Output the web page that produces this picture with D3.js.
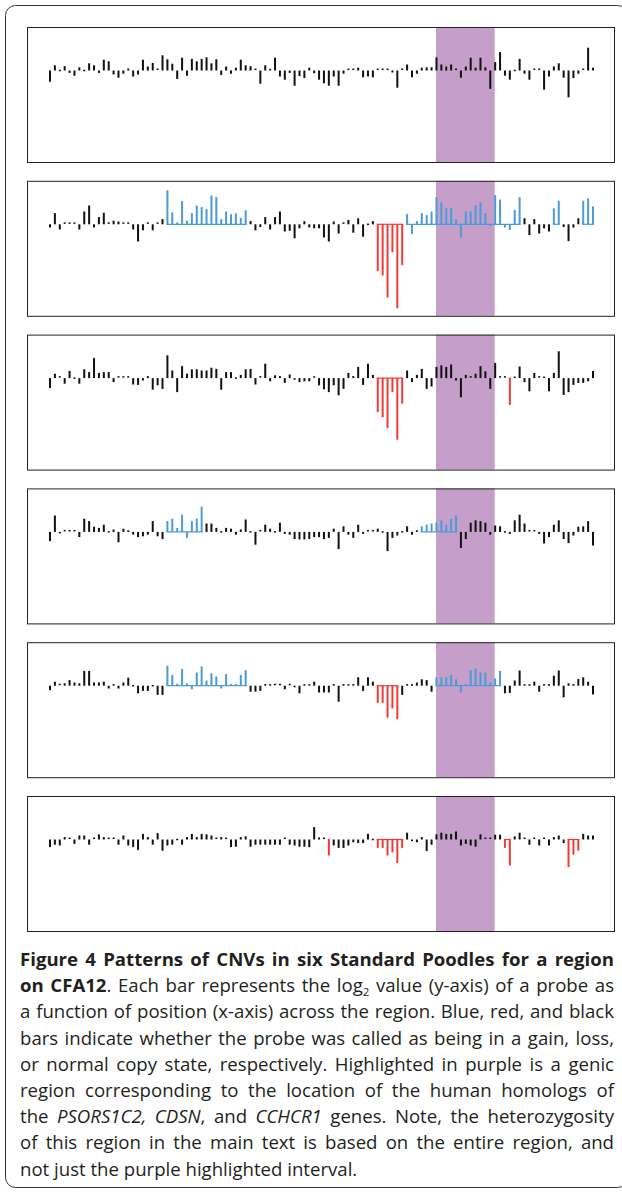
<!DOCTYPE html>
<html><head><meta charset="utf-8">
<script src="https://cdn.jsdelivr.net/npm/d3@7"></script>
<style>body{margin:0;background:#fff}svg{display:block}</style>
</head><body>
<svg id="chart" width="622" height="1193"></svg>
<script>
// ---------- DATA ----------
// probe index along the CFA12 region (x-axis)
const probeIndex = d3.range(112);
// highlighted genic interval (in probe-index units)
const highlightStart = 78.9;
const highlightEnd = 90.9;

// log2 ratios for each poodle (one value per probe)
const poodle1 = [-0.28,0.13,-0.02,0.11,-0.06,-0.13,0.08,-0.03,0.18,0.13,-0.06,0.27,0.23,-0.10,-0.18,-0.08,0.05,-0.15,-0.10,0.27,0.10,0.19,0.03,0.38,0.28,0.17,-0.21,0.32,-0.13,0.29,0.23,0.29,0.33,0.18,0.28,-0.11,0.10,-0.08,0.07,0.27,0.13,0.11,0.03,-0.33,0.13,0.04,0.32,-0.15,-0.23,-0.06,-0.38,-0.14,-0.19,0.07,-0.07,-0.23,-0.32,-0.38,-0.15,-0.38,-0.08,0.03,0.03,0.07,-0.17,-0.15,-0.17,0.03,0.03,0.03,-0.05,-0.43,0.03,0.15,-0.17,-0.08,0.07,0.08,0.08,0.33,0.15,0.10,0.15,0.03,-0.18,0.10,0.32,0.07,0.32,0.08,-0.46,0.21,0.46,-0.13,-0.23,-0.03,0.29,-0.08,-0.23,0.03,0.03,-0.48,-0.15,0.10,0.18,-0.18,-0.67,-0.19,-0.08,0.03,0.57,0.07];
const poodle2 = [-0.08,0.28,-0.13,0.03,0.03,0.03,-0.13,0.32,0.47,-0.08,0.18,0.29,0.03,0.09,0.07,0.03,0.03,-0.13,-0.43,-0.15,0.03,-0.15,0.03,0.13,0.85,0.30,0.05,0.58,0.09,0.28,0.47,0.43,0.38,0.72,0.68,0.13,0.32,0.25,0.27,0.16,0.35,0.08,-0.15,-0.07,0.18,-0.13,0.18,0.32,-0.18,-0.16,-0.35,-0.10,0.08,-0.08,-0.10,-0.10,-0.33,-0.43,0.07,-0.23,0.03,0.11,-0.21,0.15,-0.31,-0.03,0.08,-1.17,-1.28,-1.83,-0.70,-2.10,-1.02,0.26,-0.24,0.08,0.28,0.23,0.32,0.68,0.55,0.40,0.40,0.12,-0.33,0.32,0.32,0.48,0.55,0.28,-0.04,0.73,0.62,-0.08,-0.14,0.36,0.68,0.15,-0.27,0.13,-0.23,-0.10,-0.18,0.40,0.59,-0.07,-0.42,-0.08,0.15,0.59,0.65,0.45];
const poodle3 = [-0.25,0.11,0.03,-0.14,0.18,-0.03,-0.14,0.22,0.15,0.50,0.13,0.15,0.15,-0.10,0.03,0.03,0.03,-0.16,-0.17,-0.06,0.05,-0.29,-0.18,-0.27,0.57,0.19,-0.35,0.30,0.11,0.22,0.22,0.19,0.19,0.26,0.23,-0.29,0.15,0.15,-0.03,0.08,0.22,0.23,-0.16,0.03,0.36,-0.08,0.07,0.05,-0.12,0.09,-0.04,-0.10,-0.08,-0.08,0.03,-0.18,-0.28,-0.35,-0.18,-0.43,-0.27,0.13,0.05,0.28,-0.17,0.36,0.08,-0.85,-0.98,-1.25,-0.35,-1.54,-0.64,0.19,-0.10,0.08,0.23,-0.27,-0.21,0.28,0.32,0.28,0.34,-0.06,-0.48,0.08,0.03,0.11,0.30,0.17,-0.27,0.38,0.03,0.03,-0.67,0.02,0.29,-0.10,-0.33,0.13,0.03,0.02,-0.33,0.13,0.67,-0.42,-0.35,-0.17,-0.12,-0.12,-0.08,0.18];
const poodle4 = [-0.23,0.41,-0.04,0.03,0.03,0.03,-0.13,0.33,0.27,0.13,0.10,0.18,-0.03,0.06,-0.26,0.08,0.04,-0.07,-0.13,-0.11,-0.07,0.27,-0.11,-0.18,0.27,0.33,0.10,0.43,-0.15,0.27,0.33,0.63,0.21,0.21,0.10,-0.03,0.10,0.08,-0.07,0.06,0.31,-0.03,-0.32,0.03,0.18,0.08,-0.03,0.23,-0.05,-0.07,-0.18,-0.19,-0.19,-0.18,-0.13,-0.13,-0.18,-0.15,0.08,-0.43,0.14,-0.07,-0.15,0.18,-0.05,0.03,0.03,0.08,-0.03,-0.48,-0.15,-0.09,-0.03,0.14,-0.07,0.04,0.14,0.18,0.21,0.23,0.29,0.18,0.33,0.41,-0.40,-0.18,0.23,0.29,0.27,0.23,-0.07,0.16,0.14,-0.03,-0.05,0.29,0.43,0.21,0.03,0.03,-0.05,-0.29,-0.13,0.18,0.29,-0.18,-0.28,-0.09,0.13,0.14,0.27,-0.34];
const poodle5 = [-0.11,0.10,0.03,0.06,0.14,0.08,0.06,0.37,0.37,0.08,0.08,0.10,-0.07,0.04,-0.07,0.08,0.20,-0.03,-0.19,-0.13,-0.13,-0.03,-0.23,-0.23,0.50,0.27,0.03,0.42,0.06,-0.09,0.33,0.48,0.13,0.31,0.23,-0.07,0.29,0.04,0.04,0.27,0.39,-0.15,-0.15,-0.13,0.04,0.02,0.03,0.03,-0.09,0.03,-0.04,-0.19,0.04,0.02,0.10,-0.17,-0.17,-0.17,0.04,-0.40,0.04,0.02,0.02,0.21,-0.13,0.21,0.10,-0.43,-0.43,-0.80,-0.57,-0.84,-0.23,0.02,0.04,0.08,0.16,0.14,-0.15,0.21,0.21,0.21,0.27,0.16,-0.17,0.04,0.39,0.43,0.33,0.33,0.08,0.18,0.37,-0.19,-0.18,0.13,0.38,0.02,0.02,0.10,-0.15,0.02,0.04,0.25,0.38,-0.29,0.06,0.04,0.17,0.21,0.10,-0.22];
const poodle6 = [-0.19,-0.13,-0.15,0.06,0.03,-0.11,0.10,0.10,-0.13,0.03,0.13,0.06,0.03,0.03,-0.13,0.10,-0.15,-0.19,-0.26,0.14,0.06,-0.13,0.16,-0.28,-0.15,-0.13,-0.03,-0.13,0.06,0.14,0.06,0.14,0.13,0.10,0.03,0.06,0.03,-0.19,-0.18,0.06,0.08,-0.18,-0.13,-0.13,-0.13,-0.13,-0.13,-0.13,0.03,-0.13,-0.15,-0.18,-0.18,-0.19,0.31,0.05,0.03,-0.40,-0.15,-0.21,-0.21,-0.15,-0.07,-0.09,-0.09,0.14,-0.03,-0.21,-0.21,-0.40,-0.32,-0.59,-0.21,0.17,-0.04,-0.07,0.06,-0.29,-0.13,0.13,0.17,0.14,0.14,0.20,-0.15,-0.11,-0.15,-0.18,0.13,0.03,0.03,0.12,0.12,-0.21,-0.65,0.08,0.17,0.03,-0.13,0.03,-0.15,0.03,-0.15,0.06,0.10,-0.09,-0.69,-0.38,-0.28,0.14,0.10,0.10];

// called segments: [first probe, last probe, state]
const calls1 = [];
const calls2 = [[24,40,"gain"],[67,72,"loss"],[73,96,"gain"],[103,104,"gain"],[109,111,"gain"]];
const calls3 = [[67,72,"loss"],[94,94,"loss"]];
const calls4 = [[24,31,"gain"],[76,83,"gain"]];
const calls5 = [[24,40,"gain"],[67,71,"loss"],[79,92,"gain"]];
const calls6 = [[57,57,"loss"],[67,72,"loss"],[93,94,"loss"],[106,108,"loss"]];

const captionLines = [
  "*Figure 4 Patterns of CNVs in six Standard Poodles for a region*",
  "*on CFA12*. Each bar represents the log~2~ value (y-axis) of a probe as",
  "a function of position (x-axis) across the region. Blue, red, and black",
  "bars indicate whether the probe was called as being in a gain, loss,",
  "or normal copy state, respectively. Highlighted in purple is a genic",
  "region corresponding to the location of the human homologs of",
  "the _PSORS1C2, CDSN_, and _CCHCR1_ genes. Note, the heterozygosity",
  "of this region in the main text is based on the entire region, and",
  "not just the purple highlighted interval."
];

// ---------- DRAW ----------
const panels = [
  {values: poodle1, calls: calls1},
  {values: poodle2, calls: calls2},
  {values: poodle3, calls: calls3},
  {values: poodle4, calls: calls4},
  {values: poodle5, calls: calls5},
  {values: poodle6, calls: calls6}
];
const colors = {normal: "#111111", gain: "#4b9bd8", loss: "#ee3b35"};
const svg = d3.select("#chart");

svg.append("rect").attr("x", 5.5).attr("y", 5.5).attr("width", 622).attr("height", 1182)
  .attr("rx", 10).attr("fill", "none").attr("stroke", "#333").attr("stroke-width", 1);

const panelLeft = 27, panelW = 587, panelH = 135;
const panelTop = d3.scaleLinear().domain([0, 5]).range([27, 796]);
const x = d3.scaleLinear().domain([0, 111]).range([50, 593]);
const y = d3.scaleLinear().domain([1.0875, -2.2875]).range([0, panelH]);

panels.forEach((p, k) => {
  const g = svg.append("g").attr("transform", `translate(0,${panelTop(k)})`);
  const state = probeIndex.map(() => "normal");
  p.calls.forEach(([a, b, s]) => { for (let i = a; i <= b; i++) state[i] = s; });

  g.append("rect").attr("x", x(highlightStart)).attr("y", 0)
    .attr("width", x(highlightEnd) - x(highlightStart)).attr("height", panelH)
    .attr("fill", "#c59fca");

  // coloured baseline across called segments
  g.selectAll("line.seg").data(p.calls).join("line")
    .attr("x1", d => x(d[0]) - 1).attr("x2", d => x(d[1]) + 1)
    .attr("y1", y(0)).attr("y2", y(0))
    .attr("stroke", d => colors[d[2]]).attr("stroke-width", 1.2);

  g.selectAll("rect.bar").data(probeIndex).join("rect").attr("class", "bar")
    .attr("x", i => x(i) - 1)
    .attr("width", 2)
    .attr("y", i => Math.min(y(p.values[i]), y(0)) - (Math.abs(y(p.values[i]) - y(0)) < 1.5 ? 0.75 : 0))
    .attr("height", i => Math.max(1.5, Math.abs(y(p.values[i]) - y(0))))
    .attr("fill", i => colors[state[i]]);

  g.append("rect").attr("x", panelLeft + 0.5).attr("y", 0.5).attr("width", panelW).attr("height", panelH)
    .attr("fill", "none").attr("stroke", "#222").attr("stroke-width", 1);
});

// ---------- CAPTION ----------
function parse(line) {
  const segs = []; let b = false, it = false, sub = false, cur = "";
  const push = () => { if (cur) segs.push({t: cur, b, it, sub}); cur = ""; };
  for (const ch of line) {
    if (ch === "*") { push(); b = !b; }
    else if (ch === "_") { push(); it = !it; }
    else if (ch === "~") { push(); sub = !sub; }
    else cur += ch;
  }
  push();
  const words = [[]];
  segs.forEach(s => {
    s.t.split(" ").forEach((part, k) => {
      if (k > 0) words.push([]);
      if (part) words[words.length - 1].push({...s, t: part});
    });
  });
  return words.filter(w => w.length);
}
const lead = 26.2, capLeft = 20, capRight = 614, firstBase = 966;
const cap = svg.append("g").attr("font-family", "'Open Sans', sans-serif").attr("fill", "#231f20");

function buildWords(words, fs, yb) {
  return words.map(w => {
    const t = cap.append("text").attr("y", yb).attr("font-size", fs);
    w.forEach(s => {
      const ts = t.append("tspan").text(s.t)
        .attr("font-weight", s.b ? "bold" : "normal")
        .attr("font-style", s.it ? "italic" : "normal");
      if (s.sub) ts.attr("font-size", fs * 0.62).attr("dy", fs * 0.18);
    });
    return t;
  });
}
function spaceWidth(fs) {
  const a = cap.append("text").attr("font-size", fs).text("a a");
  const b = cap.append("text").attr("font-size", fs).text("aa");
  const w = a.node().getComputedTextLength() - b.node().getComputedTextLength();
  a.remove(); b.remove();
  return w;
}
// largest font size (up to 18.6px) for which every justified line keeps at least ~0.85 of a normal space
const parsed = captionLines.map(parse);
const baseFs = 10;
const sp10 = spaceWidth(baseFs);
let fs = 18.6;
parsed.forEach((words, li) => {
  if (li === parsed.length - 1) return;
  const nodes = buildWords(words, baseFs, -100);
  const tot = d3.sum(nodes, n => n.node().getComputedTextLength());
  nodes.forEach(n => n.remove());
  const need = tot + (words.length - 1) * sp10 * 0.85;
  fs = Math.min(fs, baseFs * (capRight - capLeft) / need);
});
const spaceW = spaceWidth(fs);

parsed.forEach((words, li) => {
  const yb = firstBase + li * lead;
  const nodes = buildWords(words, fs, yb);
  const widths = nodes.map(n => n.node().getComputedTextLength());
  const total = d3.sum(widths);
  const last = li === parsed.length - 1;
  const gap = last ? spaceW : (capRight - capLeft - total) / (nodes.length - 1);
  let cx = capLeft;
  nodes.forEach((n, k) => { n.attr("x", cx); cx += widths[k] + gap; });
});
</script>
</body></html>
